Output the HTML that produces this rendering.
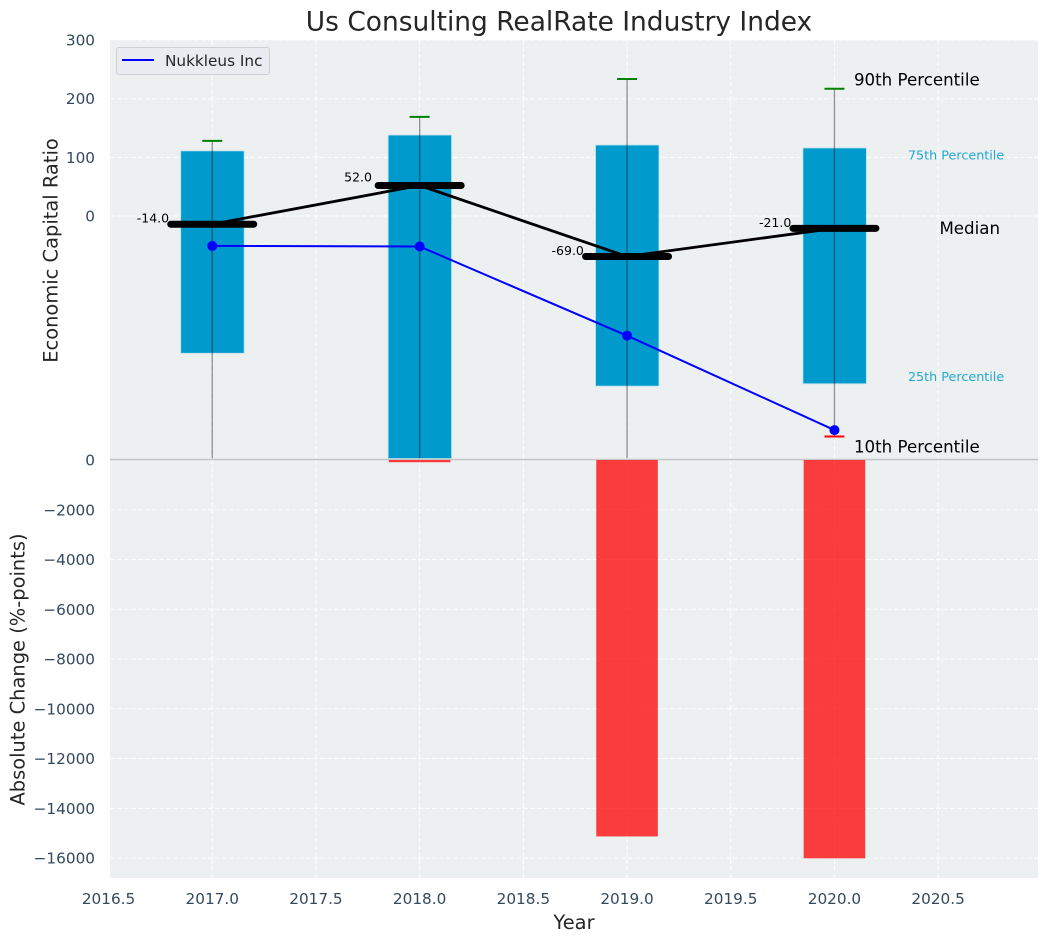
<!DOCTYPE html>
<html lang="en">
<head>
<meta charset="utf-8">
<title>Us Consulting RealRate Industry Index</title>
<style>
html,body{margin:0;padding:0;background:#fff;}
svg{display:block;font-family:"DejaVu Sans","Liberation Sans",sans-serif;}
</style>
</head>
<body>
<svg id="chart" xmlns="http://www.w3.org/2000/svg" width="1048" height="942" viewBox="0 0 1048 942">
  <defs>
    <clipPath id="top-clip"><rect x="110" y="40" width="928" height="418.3"/></clipPath>
    <clipPath id="bottom-clip"><rect x="110" y="460" width="928" height="418"/></clipPath>
  </defs>
  <rect x="110" y="40" width="928" height="420" fill="#ecf0f1"/>
  <rect x="110" y="460" width="928" height="418" fill="#ecf0f1"/>
  <g id="grid"></g>
  <line x1="110" x2="1038" y1="459.6" y2="459.6" stroke="#c4c6c8" stroke-width="1.6"/>
  <g id="bottom-marks" clip-path="url(#bottom-clip)"></g>
  <g id="top-marks" clip-path="url(#top-clip)"></g>
  <g id="annotations"></g>
  <g id="ticks"></g>
  <text x="559" y="30.5" text-anchor="middle" font-size="26.45" fill="#262626">Us Consulting RealRate Industry Index</text>
  <text x="574" y="929" text-anchor="middle" font-size="19.44" fill="#262626">Year</text>
  <text transform="translate(57.5,250.5) rotate(-90)" text-anchor="middle" font-size="19.44" fill="#262626">Economic Capital Ratio</text>
  <text transform="translate(24.5,669.5) rotate(-90)" text-anchor="middle" font-size="19.44" fill="#262626">Absolute Change (%-points)</text>
  <g>
    <rect x="116.5" y="47.5" width="153" height="27" rx="2.5" fill="#e9ecf0" stroke="#cfd2d5" stroke-width="1"/>
    <line x1="122" x2="154" y1="60" y2="60" stroke="#0000ff" stroke-width="2"/>
    <text x="165" y="66" font-size="15.28" fill="#262626">Nukkleus Inc</text>
  </g>
</svg>
<script>
const years = [2017, 2018, 2019, 2020];
const p90 = [128, 169, 233.5, 217];
const p75 = [111, 138, 121, 116];
const median = [-14, 52, -69, -21];
const p25 = [-234, -420, -290, -286];
const p10 = [-430, -430, -430, -376];
const company = [-51, -52, -204, -365];
const absoluteChange = [0, -90, -15130, -16010];
const xTicks = [2016.5, 2017, 2017.5, 2018, 2018.5, 2019, 2019.5, 2020, 2020.5];
const topYTicks = [0, 100, 200, 300];
const bottomYTicks = [0, -2000, -4000, -6000, -8000, -10000, -12000, -14000, -16000];

const NS = 'http://www.w3.org/2000/svg';
const xScale = v => 110 + (v - 2016.507) * 207.4;
const yTop = v => 216 - v * 0.5865;
const yBottom = v => 460 - v * 0.02488;

function el(parent, tag, props, text) {
  const node = document.createElementNS(NS, tag);
  for (const k in props) node.setAttribute(k, props[k]);
  if (text !== undefined) node.textContent = text;
  parent.appendChild(node);
  return node;
}
const grid = document.getElementById('grid');
const topMarks = document.getElementById('top-marks');
const bottomMarks = document.getElementById('bottom-marks');
const ann = document.getElementById('annotations');
const ticks = document.getElementById('ticks');
const dash = {stroke: '#ffffff', 'stroke-width': 1, 'stroke-dasharray': '5 2', 'stroke-opacity': 0.9};

xTicks.forEach(t => {
  if (xScale(t) >= 110) {
    const v = el(grid, 'line', Object.assign({x1: xScale(t), x2: xScale(t), y1: 40, y2: 878}, dash));
    
    
  }
  const l = el(ticks, 'text', {x: xScale(t), y: 904, 'text-anchor': 'middle', 'font-size': 15.28, fill: '#34495e'}, t.toFixed(1));
  
  
});
topYTicks.forEach(t => {
  const g = el(grid, 'line', Object.assign({x1: 110, x2: 1038, y1: yTop(t), y2: yTop(t)}, dash));
  
  
  const l = el(ticks, 'text', {x: 95, y: yTop(t) + 5.5, 'text-anchor': 'end', 'font-size': 15.28, fill: '#34495e'}, String(t));
  
  
});
bottomYTicks.forEach(t => {
  const g = el(grid, 'line', Object.assign({x1: 110, x2: 1038, y1: yBottom(t), y2: yBottom(t)}, dash));
  
  
  const l = el(ticks, 'text', {x: 95, y: yBottom(t) + 5.5, 'text-anchor': 'end', 'font-size': 15.28, fill: '#34495e'}, String(t).replace('-', '\u2212'));
  
  
});

years.forEach((yr, i) => {
  const x = xScale(yr);
  const y0 = yBottom(0), y1 = yBottom(absoluteChange[i]);
  if (y1 > y0) {
    const r = el(bottomMarks, 'rect', {x: x - 30.8, width: 61.6, y: y0, height: y1 - y0, fill: '#ff0000', 'fill-opacity': 0.75});
    
    
  }
  const a = yTop(p75[i]), b = yTop(p25[i]);
  const bar = el(topMarks, 'rect', {x: x - 31.5, width: 63.4, y: a, height: b - a, fill: '#009acd', stroke: '#b8dfee', 'stroke-width': 0.8});
  
  
  const w = el(topMarks, 'line', {x1: x, x2: x, y1: yTop(p90[i]), y2: yTop(p10[i]), stroke: '#000000', 'stroke-opacity': 0.42, 'stroke-width': 1.3});
  
  
  const cap = el(topMarks, 'line', {x1: x - 10, x2: x + 10, y1: yTop(p90[i]), y2: yTop(p90[i]), stroke: '#008000', 'stroke-width': 2});
  
  
  const cap2 = el(topMarks, 'line', {x1: x - 10, x2: x + 10, y1: yTop(p10[i]), y2: yTop(p10[i]), stroke: '#ff0000', 'stroke-width': 2});
  
  
});

const medPts = years.map((yr, i) => xScale(yr) + ',' + yTop(median[i])).join(' ');
const medLine = el(topMarks, 'polyline', {points: medPts, fill: 'none', stroke: '#000000', 'stroke-width': 2.8});


years.forEach((yr, i) => {
  const x = xScale(yr), y = yTop(median[i]);
  const m = el(topMarks, 'line', {x1: x - 41.5, x2: x + 41.5, y1: y, y2: y, stroke: '#000000', 'stroke-width': 7, 'stroke-linecap': 'round'});
  
  
  const t = el(ann, 'text', {x: x - 75.5, y: y + (median[i] > 0 ? -4 : -1.5), 'font-size': 12.5, fill: '#000000'}, median[i].toFixed(1));
  
  
});

const coPts = years.map((yr, i) => xScale(yr) + ',' + yTop(company[i])).join(' ');
const coLine = el(topMarks, 'polyline', {points: coPts, fill: 'none', stroke: '#0000ff', 'stroke-width': 2});


years.forEach((yr, i) => {
  const c = el(topMarks, 'circle', {cx: xScale(yr), cy: yTop(company[i]), r: 5, fill: '#0000ff'});
  
  
});

const last = years.length - 1;
const lastX = xScale(years[last]);
const p90Label = el(ann, 'text', {x: lastX + 19.5, y: yTop(p90[last]) - 3, 'font-size': 16.67, fill: '#000000'}, '90th Percentile');


const p75Label = el(ann, 'text', {x: lastX + 73.5, y: yTop(p75[last]) + 11.5, 'font-size': 12.75, fill: '#009acd', 'fill-opacity': 0.85}, '75th Percentile');


const medLabel = el(ann, 'text', {x: lastX + 105, y: yTop(median[last]) + 5.5, 'font-size': 16.67, fill: '#000000'}, 'Median');


const p25Label = el(ann, 'text', {x: lastX + 73.5, y: yTop(p25[last]) - 2.5, 'font-size': 12.75, fill: '#009acd', 'fill-opacity': 0.85}, '25th Percentile');


const p10Label = el(ann, 'text', {x: lastX + 19.5, y: yTop(p10[last]) + 16, 'font-size': 16.67, fill: '#000000'}, '10th Percentile');


</script>
</body>
</html>
